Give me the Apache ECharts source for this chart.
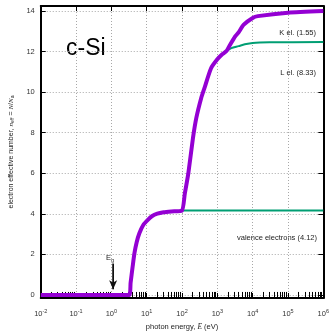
<!DOCTYPE html>
<html>
<head>
<meta charset="utf-8">
<script src="https://cdn.jsdelivr.net/npm/echarts@6/dist/echarts.min.js"></script>
<style>
  html, body { margin: 0; padding: 0; background: #fff; }
  #chart { width: 332px; height: 336px; }
</style>
</head>
<body>
<div id="chart"></div>
<script>
// photon energy (eV) vs. cumulative effective electron number, c-Si
const totalE = [0.01, 1, 3.2, 3.5, 4, 4.5, 5.2, 6.2, 8, 10.6, 14, 20, 30, 50, 99,
  120, 150, 205, 254, 348, 431, 659, 1000, 1400, 1839,
  2200, 3200, 4000, 5500, 10000, 14000, 100000, 1000000];
const totalN = [0, 0, 0, 0.6, 1.4, 2.06, 2.6, 3.04, 3.45, 3.69, 3.88, 4.01, 4.08, 4.12, 4.16,
  5.0, 5.97, 7.76, 8.73, 9.7, 10.2, 11.17, 11.62, 11.88, 12.04,
  12.28, 12.75, 12.95, 13.32, 13.66, 13.75, 13.92, 14.0];

// valence contribution (4.12)
const valenceE = [100, 1000000];
const valenceN = [4.16, 4.16];

// valence + L shell (8.33)
const lShellE = [1839, 2500, 4000, 6000, 10000, 30000, 1000000];
const lShellN = [12.04, 12.17, 12.27, 12.36, 12.43, 12.46, 12.47];

// band gap marker
const gapE = 1.12;
const gapArrow = [1.55, 0.28];

const xTicks = [1e-2, 1e-1, 1, 1e1, 1e2, 1e3, 1e4, 1e5, 1e6];
const yTicks = [0, 2, 4, 6, 8, 10, 12, 14];

const xMinor = [];
for (let d = -2; d < 6; d++) {
  for (let m = 2; m <= 9; m++) xMinor.push(m * Math.pow(10, d));
}

const pairs = (xs, ys) => xs.map((x, i) => [x, ys[i]]);

const FONT = 'Liberation Sans';
const grid = { left: 37, right: 5, top: 6, bottom: 34 };

const frameLine = { show: true, onZero: false, lineStyle: { color: '#000', width: 2 } };
const dotted = { show: true, lineStyle: { color: '#a8a8a8', width: 1, type: [1, 2] } };

function xAxis(pos, minor) {
  return {
    type: 'log', logBase: 10, min: 0.01, max: 1e6, position: pos,
    axisLine: minor ? { show: false } : frameLine,
    axisTick: {
      show: true, inside: true, length: minor ? 3 : 5,
      lineStyle: { color: '#000', width: 1 },
      customValues: minor ? xMinor : xTicks
    },
    axisLabel: pos === 'bottom' && !minor ? {
      show: true, margin: 10, customValues: xTicks, fontFamily: FONT, color: '#333',
      formatter: v => '{b|10}{e|' + Math.round(Math.log10(v)) + '}',
      rich: {
        b: { fontSize: 7.5, fontFamily: FONT, color: '#333' },
        e: { fontSize: 5.5, fontFamily: FONT, color: '#333', padding: [0, 0, 6, 0] }
      }
    } : { show: false },
    splitLine: pos === 'bottom' && !minor ? dotted : { show: false },
    name: pos === 'bottom' && !minor ? 'photon energy, {i|E} (eV)' : '',
    nameLocation: 'middle', nameGap: 25,
    nameTextStyle: {
      fontSize: 7.5, fontFamily: FONT, color: '#222',
      rich: { i: { fontSize: 7.5, fontFamily: 'Liberation Serif', fontStyle: 'italic', color: '#222' } }
    }
  };
}

function yAxis(pos) {
  const main = pos === 'left';
  return {
    type: 'value', min: -0.15, max: 14.25, position: pos,
    axisLine: frameLine,
    axisTick: {
      show: true, inside: true, length: 5,
      lineStyle: { color: '#000', width: 1 }, customValues: yTicks
    },
    axisLabel: main ? {
      show: true, margin: 6, customValues: yTicks,
      fontSize: 7.5, fontFamily: FONT, color: '#333'
    } : { show: false },
    splitLine: main ? dotted : { show: false },
    name: main ? 'electron effective number, {i|n}{s|eff} = {i|N}/{i|N}{s|a}' : '',
    nameLocation: 'middle', nameGap: 24,
    nameTextStyle: {
      fontSize: 7, fontFamily: FONT, color: '#222',
      rich: {
        i: { fontSize: 7, fontFamily: 'Liberation Serif', fontStyle: 'italic', color: '#222' },
        s: { fontSize: 5, fontFamily: FONT, color: '#222', padding: [3, 0, 0, 0] }
      }
    }
  };
}

const chart = echarts.init(document.getElementById('chart'), null, { renderer: 'canvas' });

chart.setOption({
  animation: false,
  backgroundColor: '#fff',
  grid: grid,
  xAxis: [xAxis('bottom', false), xAxis('bottom', true), xAxis('top', false), xAxis('top', true)],
  yAxis: [yAxis('left'), yAxis('right')],
  series: [
    {
      type: 'line', data: pairs(valenceE, valenceN), showSymbol: false,
      lineStyle: { color: '#009e73', width: 2 }, z: 2
    },
    {
      type: 'line', data: pairs(lShellE, lShellN), showSymbol: false, smooth: 0.3,
      lineStyle: { color: '#009e73', width: 2 }, z: 2
    },
    {
      type: 'line', data: pairs(totalE, totalN), showSymbol: false, smooth: 0.2,
      lineStyle: { color: '#9400d3', width: 4 }, z: 3
    },
    {
      type: 'line',
      data: [
        { value: [gapE, gapArrow[0]], symbol: 'none' },
        { value: [gapE, gapArrow[1]], symbol: 'arrow', symbolRotate: 180, symbolSize: [6, 9] }
      ],
      lineStyle: { color: '#111', width: 1.8 },
      itemStyle: { color: '#111' }, z: 4
    }
  ],
  graphic: [
    { type: 'text', left: 66, top: 37, style: { text: 'c-Si', font: '23px "Liberation Sans"', fill: '#000' } },
    { type: 'text', right: 16, top: 29, style: { text: 'K el. (1.55)', font: '7.5px "Liberation Sans"', fill: '#222' } },
    { type: 'text', right: 16, top: 69, style: { text: 'L el. (8.33)', font: '7.5px "Liberation Sans"', fill: '#222' } },
    { type: 'text', right: 15, top: 234, style: { text: 'valence electrons (4.12)', font: '7.5px "Liberation Sans"', fill: '#222' } },
    {
      type: 'text', left: 106, top: 254,
      style: {
        text: '{e|E}{g|g}',
        rich: {
          e: { fontSize: 7.5, fontFamily: FONT, fill: '#222' },
          g: { fontSize: 5.5, fontFamily: FONT, fill: '#222', padding: [4, 0, 0, 0] }
        }
      }
    }
  ]
});
</script>
</body>
</html>
